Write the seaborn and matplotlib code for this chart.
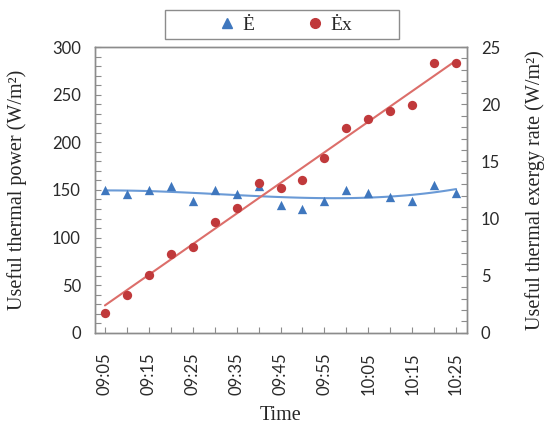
import numpy as np
import pandas as pd
import matplotlib
matplotlib.use("Agg")
import matplotlib.pyplot as plt
from matplotlib.ticker import MultipleLocator
from matplotlib.patches import Rectangle
import seaborn as sns

# ── Data ──────────────────────────────────────────────────────
times = ["09:05", "09:10", "09:15", "09:20", "09:25", "09:30", "09:35", "09:40", "09:45",
         "09:50", "09:55", "10:00", "10:05", "10:10", "10:15", "10:20", "10:25"]
energy = [150.0, 145.9, 150.0, 154.2, 138.5, 150.0, 145.9, 154.2, 134.3,
          130.1, 138.5, 150.0, 146.9, 142.7, 138.5, 155.3, 146.9]
exergy = [1.77, 3.35, 5.07, 6.90, 7.55, 9.73, 10.90, 13.14, 12.65,
          13.37, 15.33, 17.90, 18.68, 19.43, 19.93, 23.63, 23.57]

BLUE_PT = "#3f77be"
BLUE_LN = "#6a9ad6"
RED_PT = "#c0393b"
RED_LN = "#dc6e6a"
GREY = "#8c8c8c"

t0 = pd.to_datetime(times[0], format="%H:%M")
minutes = [(pd.to_datetime(t, format="%H:%M") - t0).seconds / 60 for t in times]
df = pd.DataFrame({"minutes": minutes, "E": energy, "Ex": exergy})

sns.set_style("ticks")
plt.rcParams["font.family"] = ["Lato", "DejaVu Sans"]

W, H = 545, 424
fig = plt.figure(figsize=(W / 100, H / 100), dpi=100)
ax = fig.add_axes([0.174, 0.215, 0.683, 0.674])
ax2 = ax.twinx()

# Useful thermal power (left axis)
sns.regplot(data=df, x="minutes", y="E", order=3, ci=None, scatter=False, ax=ax,
            line_kws={"color": BLUE_LN, "lw": 1.5})
sns.scatterplot(data=df, x="minutes", y="E", marker="^", s=45, color=BLUE_PT,
                edgecolor=BLUE_PT, linewidth=0, ax=ax, zorder=3)

# Useful thermal exergy rate (right axis)
sns.regplot(data=df, x="minutes", y="Ex", order=1, ci=None, scatter=False, ax=ax2,
            line_kws={"color": RED_LN, "lw": 1.5})
sns.scatterplot(data=df, x="minutes", y="Ex", marker="o", s=45, color=RED_PT,
                edgecolor=RED_PT, linewidth=0, ax=ax2, zorder=3)

ax.set_xlim(-2.3, 82.5)
ax.set_ylim(0, 300)
ax2.set_ylim(0, 25)

ax.set_xticks(minutes)
ax.set_xticklabels([t if i % 2 == 0 else "" for i, t in enumerate(times)], rotation=90)
ax.yaxis.set_major_locator(MultipleLocator(50))
ax.yaxis.set_minor_locator(MultipleLocator(10))
ax2.yaxis.set_major_locator(MultipleLocator(5))
ax2.yaxis.set_minor_locator(MultipleLocator(1))

for a in (ax, ax2):
    a.tick_params(which="both", direction="in", color=GREY, labelsize=12,
                  labelcolor="#2a2a2a", length=4, width=0.8)
    for sp in a.spines.values():
        sp.set_visible(True)
        sp.set_color(GREY)
        sp.set_linewidth(1.0)
ax.tick_params(axis="y", which="both", right=False, pad=10)
ax2.tick_params(axis="y", which="both", left=False, pad=10)
ax.tick_params(axis="x", pad=14)

serif = ["Liberation Serif", "DejaVu Serif"]
ax.set_xlabel("Time", family=serif, fontsize=14.5, labelpad=8)
ax.set_ylabel("Useful thermal power (W/m²)", family=serif, fontsize=14.5, labelpad=18)
ax2.set_ylabel("Useful thermal exergy rate (W/m²)", family=serif, fontsize=14.5, labelpad=18)

# legend: markers + labels, with a plain box around them
h1 = plt.Line2D([], [], marker="^", ls="none", color=BLUE_PT, markersize=7)
h2 = plt.Line2D([], [], marker="o", ls="none", color=RED_PT, markersize=7)
fig.legend([h1, h2], ["Ė", "Ėx"], loc="center left",
           bbox_to_anchor=(209.5 / W, 1 - 25 / H), borderaxespad=0,
           ncol=2, frameon=False, handlelength=1.0, handletextpad=0.3,
           columnspacing=2.6, prop={"family": serif, "size": 14})
fig.add_artist(Rectangle((165 / W, 1 - 39 / H), 234 / W, 29 / H, transform=fig.transFigure,
                         fill=False, edgecolor=GREY, linewidth=1.0))

fig.savefig("out.png", dpi=100)
